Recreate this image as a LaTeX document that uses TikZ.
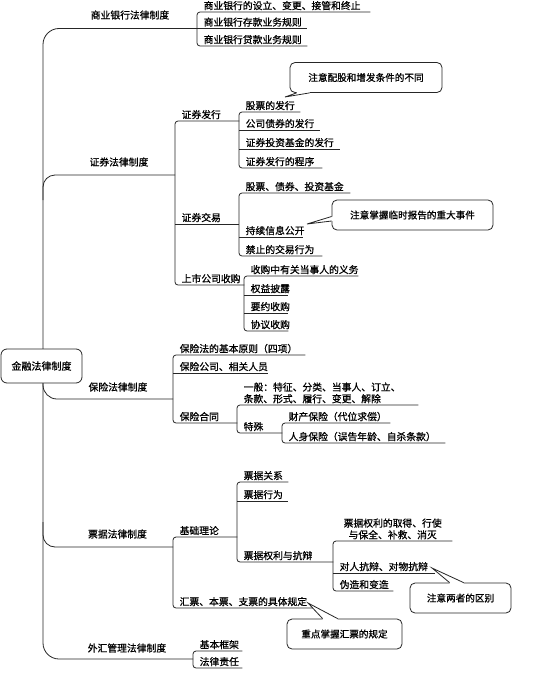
\documentclass[tikz,border=0pt]{standalone}
\usepackage{fontspec}
\newfontfamily\cjk{Noto Sans CJK SC}[FakeBold=0.8]
\usetikzlibrary{calc}
\tikzset{
  ln/.style={draw=black!85, line width=0.8pt},
  it/.style={anchor=south west, inner xsep=6.5pt, inner ysep=1.5pt, text height=8.5pt, text depth=1pt, align=left, font=\cjk\fontsize{9.8}{11.7}\selectfont},
  multi/.style={text height=, text depth=},
  lvone/.style={inner sep=0pt, text height=8.5pt, text depth=1pt, font=\cjk\fontsize{9.8}{12}\selectfont},
  rootbox/.style={draw=black!85, line width=0.8pt, fill=white, rounded corners=6pt, minimum width=81pt, minimum height=34pt, inner sep=0pt, font=\cjk\fontsize{10}{12}\selectfont},
  callbox/.style={draw=black!85, line width=0.8pt, fill=white, rounded corners=5pt, minimum height=30pt, inner sep=0pt, font=\cjk\fontsize{9.6}{12}\selectfont},
}
\newcommand\itm[6][]{%
  \pgfmathsetlengthmacro\itmw{(#4)-(#3)-13}%
  \node[it,text width=\itmw,#1] (#2) at (#3,#5) {#6};}
\newcommand\brk[2]{\draw[ln,rounded corners=3pt] (#1.south east) -- (#1.south west) -- (#2.south west) -- (#2.south east);}
\newcommand\undl[1]{\draw[ln] (#1.south west) -- (#1.south east);}
\newcommand\pointer[4]{%
  \fill[white] (#1) -- (#2) -- (#3) -- ($(#3)+#4$) -- ($(#1)+#4$) -- cycle;
  \draw[ln] (#1) -- (#2) -- (#3);}
\begin{document}
\begin{tikzpicture}[x=1pt,y=-1pt]
\fill[white] (0,0) rectangle (554,696);
\useasboundingbox (0,0) rectangle (554,696);

% ---------- items ----------
% commercial banks
\itm{A1}{197}{370}{12}{商业银行的设立、变更、接管和终止}
\itm{A2}{197}{307}{28.5}{商业银行存款业务规则}
\itm{A3}{197}{307}{46}{商业银行贷款业务规则}
% securities
\itm{S1}{175}{239}{121}{证券发行}
\itm{S2}{175}{239}{224}{证券交易}
\itm{S3}{175}{244}{285}{上市公司收购}
\itm{S11}{239}{300}{112}{股票的发行}
\itm{S12}{239}{320}{130}{公司债券的发行}
\itm{S13}{239}{340}{149}{证券投资基金的发行}
\itm{S14}{239}{322}{168}{证券发行的程序}
\itm{S21}{239}{350}{193}{股票、债券、投资基金}
\itm{S22}{239}{303}{237}{持续信息公开}
\itm{S23}{239}{322}{256}{禁止的交易行为}
\itm{S31}{244}{358}{276}{收购中有关当事人的义务}
\itm{S32}{244}{288}{295}{权益披露}
\itm{S33}{244}{288}{313}{要约收购}
\itm{S34}{244}{288}{331}{协议收购}
% insurance
\itm{I1}{173}{305}{355}{保险法的基本原则（四项）}
\itm{I2}{173}{268}{373}{保险公司、相关人员}
\itm{I3}{173}{237}{423}{保险合同}
\itm[multi]{I31}{237}{418}{405}{一般：特征、分类、当事人、订立、\\条款、形式、履行、变更、解除}
\itm{I32}{237}{282}{433}{特殊}
\itm{I321}{282}{390}{423}{财产保险（代位求偿）}
\itm{I322}{282}{445}{443}{人身保险（误告年龄、自杀条款）}
% bills
\itm{P1}{173}{237}{537}{基础理论}
\itm{P2}{173}{316}{608}{汇票、本票、支票的具体规定}
\itm{P11}{237}{288}{482}{票据关系}
\itm{P12}{237}{288}{501}{票据行为}
\itm{P13}{237}{333}{562}{票据权利与抗辩}
\itm[multi,align=center]{P131}{333}{452}{541}{票据权利的取得、行使\\与保全、补救、消灭}
\itm{P132}{333}{435}{573}{对人抗辩、对物抗辩}
\itm{P133}{333}{393}{591}{伪造和变造}
% foreign exchange
\itm{W1}{193}{242}{651}{基本框架}
\itm{W2}{193}{242}{668}{法律责任}

% ---------- brackets ----------
\brk{A1}{A3} \undl{A2}
\brk{S1}{S3} \undl{S2}
\brk{S11}{S14} \undl{S12} \undl{S13}
\brk{S21}{S23} \undl{S22}
\brk{S31}{S34} \undl{S32} \undl{S33}
\brk{I1}{I3} \undl{I2}
\brk{I31}{I32}
\brk{I321}{I322}
\brk{P1}{P2}
\brk{P11}{P13} \undl{P12}
\brk{P131}{P133} \undl{P132}
\brk{W1}{W2}

% ---------- trunk ----------
\coordinate (tTop) at (43,28.5);
\coordinate (tBot) at (43,659);
\coordinate (jS) at (175,175);
\coordinate (jI) at (173,399);
\coordinate (jP) at (173,547);
\coordinate (jW) at (193,659);
\draw[ln, rounded corners=16pt] (A2.south west) -- (tTop) -- (tBot) -- (jW);
\draw[ln, rounded corners=12pt] (jS) -- (jS -| tTop) -- ($(jS -| tTop)+(0,25)$);
\draw[ln, rounded corners=14pt] ($(jI -| tTop)+(0,-25)$) -- (jI -| tTop) -- (jI);
\draw[ln, rounded corners=12pt] ($(jP -| tTop)+(0,-25)$) -- (jP -| tTop) -- (jP);

% ---------- level-one labels ----------
\node[lvone] (LA) at (130,15) {商业银行法律制度};
\node[lvone] (LS) at (119,162) {证券法律制度};
\node[lvone] (LI) at (118,387) {保险法律制度};
\node[lvone] (LP) at (117.5,534) {票据法律制度};
\node[lvone] (LW) at (127,648) {外汇管理法律制度};

% ---------- root ----------
\node[rootbox] (root) at (41.5,366) {金融法律制度};

% ---------- callouts ----------
\node[callbox, minimum width=152pt] (C1) at (366,77.5) {注意配股和增发条件的不同};
\coordinate (C1t) at (285,97);
\coordinate (C1a) at ($(C1.south west)+(7,0)$);
\coordinate (C1b) at ($(C1.south west)+(20,0)$);
\pointer{C1a}{C1t}{C1b}{(0,-1.5)}

\node[callbox, minimum width=161pt] (C2) at (412.5,215) {注意掌握临时报告的重大事件};
\coordinate (C2t) at (307,224);
\coordinate (C2a) at ($(C2.west)+(0,1.5)$);
\coordinate (C2b) at ($(C2.west)+(0,6)$);
\pointer{C2a}{C2t}{C2b}{(1.5,0)}

\node[callbox, minimum width=101pt] (C3) at (460.5,598) {注意两者的区别};
\coordinate (C3t) at (432,568);
\coordinate (C3a) at ($(C3.north west)+(40,0)$);
\coordinate (C3b) at ($(C3.north west)+(54,0)$);
\pointer{C3a}{C3t}{C3b}{(0,1.5)}

\node[callbox, minimum width=115pt] (C4) at (344.5,634) {重点掌握汇票的规定};
\coordinate (C4t) at (308,603);
\coordinate (C4a) at ($(C4.north west)+(36,0)$);
\coordinate (C4b) at ($(C4.north west)+(51,0)$);
\pointer{C4a}{C4t}{C4b}{(0,1.5)}
\end{tikzpicture}
\end{document}
